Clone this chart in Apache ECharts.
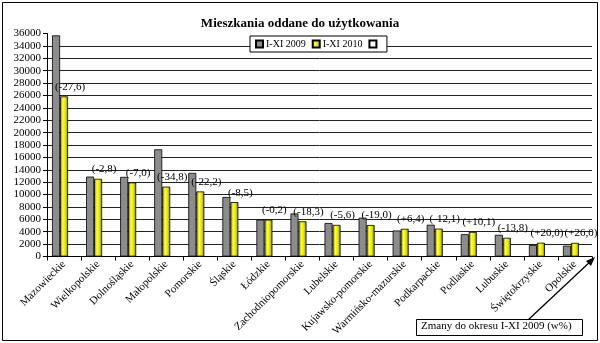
<!DOCTYPE html>
<html><head><meta charset="utf-8">
<script src="https://cdn.jsdelivr.net/npm/echarts@6/dist/echarts.min.js"></script>
<style>html,body{margin:0;padding:0;background:#fff}#c{width:600px;height:343px}</style>
</head><body><div id="c"></div>
<script>
const categories = ['Mazowieckie','Wielkopolskie','Dolnośląskie','Małopolskie','Pomorskie','Śląskie','Łódzkie','Zachodniopomorskie','Lubelskie','Kujawsko-pomorskie','Warmińsko-mazurskie','Podkarpackie','Podlaskie','Lubuskie','Świętokrzyskie','Opolskie'];
const values2009 = [35700,12900,12850,17300,13500,9600,5950,6950,5400,6270,4200,5130,3600,3500,1850,1750];
const values2010 = [25850,12540,11950,11280,10500,8780,5940,5680,5100,5080,4470,4500,3960,3020,2220,2200];
const changes = ['(-27,6)','(-2,8)','(-7,0)','(-34,8)','(-22,2)','(-8,5)','(-0,2)','(-18,3)','(-5,6)','(-19,0)','(+6,4)','(-12,1)','(+10,1)','(-13,8)','(+20,0)','(+26,0)'];
const yTicks = {min:0, max:36000, interval:2000};

const serif = '"Liberation Serif","DejaVu Serif",serif';
const chart = echarts.init(document.getElementById('c'));
const gridColors = [];
for (let i = 0; i <= yTicks.max / yTicks.interval; i++) gridColors.push(i === yTicks.max / yTicks.interval ? 'rgba(0,0,0,0)' : '#222');

const yellow = new echarts.graphic.LinearGradient(0,0,1,0,[
  {offset:0,color:'#7d7d00'},{offset:0.35,color:'#ffff40'},{offset:0.7,color:'#e0e000'},{offset:1,color:'#707000'}]);

chart.setOption({
  animation:false,
  backgroundColor:'#fff',
  title:{text:'Mieszkania oddane do użytkowania',left:'center',top:12,
    textStyle:{fontFamily:serif,fontSize:13,fontWeight:'bold',color:'#000'}},
  legend:{left:250,top:36,itemWidth:7,itemHeight:7,itemGap:6,padding:[3,5,3,5],
    backgroundColor:'#fff',borderColor:'#000',borderWidth:1,
    textStyle:{fontFamily:serif,fontSize:10,color:'#000',padding:[0,0,0,-2]},
    data:[{name:'I-XI 2009',icon:'rect'},{name:'I-XI 2010',icon:'rect'},{name:'\u00a0',icon:'rect'}]},
  grid:{left:47,right:8,top:33.5,bottom:86.5,containLabel:false},
  xAxis:{type:'category',data:categories,
    axisLine:{lineStyle:{color:'#000',width:1}},
    axisTick:{show:true,alignWithLabel:false,length:4,lineStyle:{color:'#000'}},
    axisLabel:{rotate:45,interval:0,fontFamily:serif,fontSize:11,color:'#000',margin:6}},
  yAxis:{type:'value',min:yTicks.min,max:yTicks.max,interval:yTicks.interval,
    axisLine:{show:true,lineStyle:{color:'#000'}},
    axisTick:{show:true,length:4,lineStyle:{color:'#000'}},
    axisLabel:{fontFamily:serif,fontSize:11,color:'#000',margin:6,formatter:v=>String(v)},
    splitLine:{show:true,lineStyle:{color:gridColors,width:1}}},
  series:[
    {name:'I-XI 2009',type:'bar',data:values2009,barWidth:8,barGap:'0%',barCategoryGap:'0%',
      itemStyle:{color:'#8c8c8c',borderColor:'#000',borderWidth:0.8}},
    {name:'I-XI 2010',type:'bar',data:values2010,barWidth:8,barGap:'0%',
      itemStyle:{color:yellow,borderColor:'#000',borderWidth:0.8},
      label:{show:true,position:'top',offset:[6,-2],distance:2,
        formatter:p=>changes[p.dataIndex],fontFamily:serif,fontSize:11,color:'#000'}},
    {name:'\u00a0',type:'bar',data:categories.map(()=>null),barWidth:8,barGap:'0%',
      itemStyle:{color:'#fff',borderColor:'#000',borderWidth:0.8}}
  ],
  graphic:[
    {type:'rect',shape:{x:2.5,y:2.5,width:595,height:338},style:{fill:'none',stroke:'#000',lineWidth:1},z:-1},
    {type:'line',shape:{x1:528,y1:320,x2:592,y2:260},style:{stroke:'#000',lineWidth:1.3},z:10},
    {type:'polygon',shape:{points:[[595,257],[586,261],[591,266]]},style:{fill:'#000'},z:10},
    {type:'rect',shape:{x:416.5,y:319.5,width:166,height:16},style:{fill:'#fff',stroke:'#000',lineWidth:1},z:10},
    {type:'text',x:421,y:321,style:{text:'Zmany do okresu I-XI 2009 (w%)',font:'11px '+serif,fill:'#000'},z:11}
  ]
});
</script></body></html>
